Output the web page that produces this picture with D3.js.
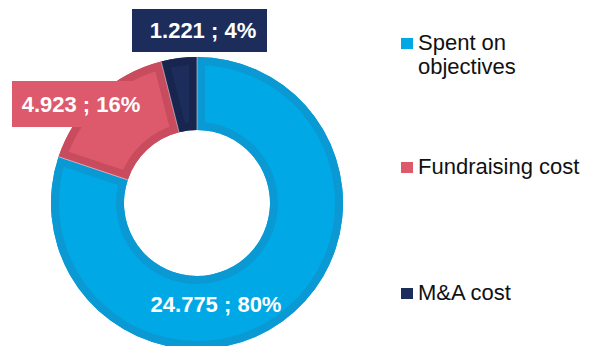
<!DOCTYPE html>
<html>
<head>
<meta charset="utf-8">
<script src="https://cdn.jsdelivr.net/npm/d3@7"></script>
<style>
  html, body { margin: 0; padding: 0; background: #fff; }
  svg { display: block; }
  text { font-family: "Liberation Sans", Arial, sans-serif; }
</style>
</head>
<body>
<svg id="chart" width="594" height="346"></svg>
<script>
// Expense breakdown
const categories = ["Spent on objectives", "Fundraising cost", "M&A cost"];
const amounts = [24.775, 4.923, 1.221];
const percentLabels = ["80%", "16%", "4%"];
const amountLabels = ["24.775", "4.923", "1.221"];
const legendLines = [["Spent on", "objectives"], ["Fundraising cost"], ["M&A cost"]];

const fills = ["#01a8e6", "#dc5a6c", "#1d2d5b"];
const edges = ["#0a99d3", "#c94b5e", "#18264f"];

const W = 594, H = 346;
const cx = 197, cy = 203, outerR = 146, innerR = 73;

const svg = d3.select("#chart");
const defs = svg.append("defs");

const pie = d3.pie().sort(null).value(d => d)(amounts);
const arc = d3.arc().innerRadius(innerR).outerRadius(outerR);

const g = svg.append("g").attr("transform", `translate(${cx},${cy})`);

// Slices: flat fill, plus a darker bevel band kept inside each slice
pie.forEach((p, i) => {
  const id = "clip" + i;
  defs.append("clipPath").attr("id", id)
    .append("path").attr("d", arc(p));
  g.append("path").attr("d", arc(p)).attr("fill", fills[i]);
  g.append("path")
    .attr("d", arc(p))
    .attr("clip-path", `url(#${id})`)
    .attr("fill", "none")
    .attr("stroke", edges[i])
    .attr("stroke-width", 16)
    .attr("stroke-linejoin", "miter");
});

// thin light separators between slices
pie.forEach((p) => {
  const a = p.startAngle;
  g.append("line")
    .attr("x1", Math.sin(a) * innerR).attr("y1", -Math.cos(a) * innerR)
    .attr("x2", Math.sin(a) * outerR).attr("y2", -Math.cos(a) * outerR)
    .attr("stroke", "#ffffff").attr("stroke-opacity", 0.6).attr("stroke-width", 0.8);
});

// Data labels
const labelFont = 22;
const labelSpecs = [
  { x: 216, y: 312, box: null },
  { x: 81, y: 112, box: { x: 12, y: 81, w: 144, h: 46 } },
  { x: 203, y: 38, box: { x: 132, y: 9, w: 135, h: 43 } }
];
pie.forEach((p, i) => {
  const s = labelSpecs[i];
  if (s.box) {
    svg.append("rect")
      .attr("x", s.box.x).attr("y", s.box.y)
      .attr("width", s.box.w).attr("height", s.box.h)
      .attr("fill", fills[i]);
  }
  svg.append("text")
    .attr("x", s.x).attr("y", s.y)
    .attr("text-anchor", "middle")
    .attr("fill", "#ffffff")
    .attr("font-weight", "bold")
    .attr("font-size", labelFont)
    .text(`${amountLabels[i]} ; ${percentLabels[i]}`);
});

// Legend
const legendY = [38, 162, 288];
const legend = svg.append("g");
categories.forEach((c, i) => {
  const item = legend.append("g").attr("transform", `translate(401,${legendY[i]})`);
  item.append("rect").attr("x", 0).attr("y", 0).attr("width", 12).attr("height", 11)
    .attr("fill", fills[i]);
  const t = item.append("text")
    .attr("x", 17).attr("y", 11.5)
    .attr("font-size", 22)
    .attr("fill", "#111111");
  legendLines[i].forEach((line, k) => {
    t.append("tspan").attr("x", 17).attr("dy", k === 0 ? 0 : 24).text(line);
  });
});
</script>
</body>
</html>
